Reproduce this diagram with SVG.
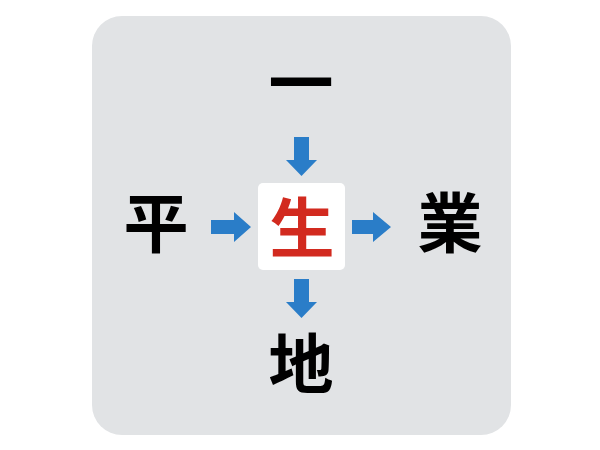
<svg xmlns="http://www.w3.org/2000/svg" width="600" height="450" viewBox="0 0 600 450">
<style>
.ch{font-family:"Noto Sans CJK JP","Noto Sans CJK SC",sans-serif;font-weight:700;font-size:65px;text-anchor:middle;fill:#000}
.arr{fill:#2a7dc8}
</style>
<rect width="600" height="450" fill="#fff"/>
<rect x="92" y="16" width="419" height="419" rx="30" fill="#e1e3e5"/>
<g id="top"><text class="ch" x="301" y="107">一</text></g>
<g id="left"><text class="ch" x="156" y="247">平</text></g>
<g id="right"><text class="ch" x="450" y="247">業</text></g>
<g id="bottom"><text class="ch" x="301" y="388">地</text></g>
<g id="center">
<rect x="258" y="183" width="87" height="87" rx="5" fill="#fff"/>
<text class="ch" x="302" y="252" style="fill:#d22a1f">生</text>
</g>
<g id="connectors">
<polygon class="arr" points="294,137 309,137 309,160 317,160 301.5,176 286,160 294,160"/>
<polygon class="arr" points="211,220 234,220 234,212 251,227 234,242 234,234 211,234"/>
<polygon class="arr" points="352,220 373,220 373,212 391,227 373,242 373,234 352,234"/>
<polygon class="arr" points="294,279 309,279 309,302 317,302 301.5,318 286,302 294,302"/>
</g>
</svg>
